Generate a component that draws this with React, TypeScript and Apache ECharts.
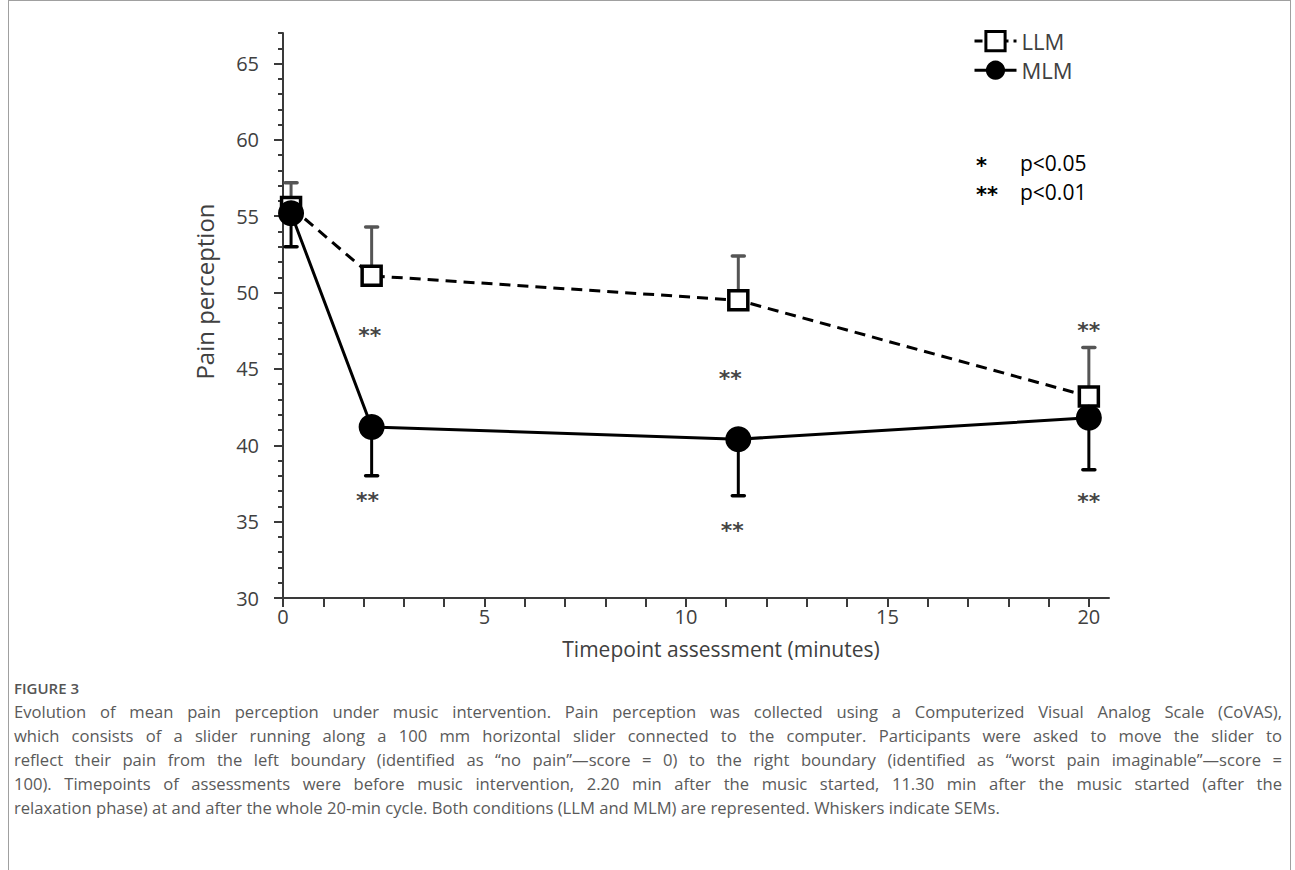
import React, { useEffect, useRef } from "react";
import * as echarts from "echarts";

// ---- data ----
const timepoints = [0.2, 2.2, 11.3, 20];
const llmMean = [55.6, 51.1, 49.5, 43.2];
const llmSem = [1.6, 3.2, 2.9, 3.2];
const mlmMean = [55.2, 41.2, 40.4, 41.8];
const mlmSem = [2.2, 3.2, 3.7, 3.4];

// significance markers "**"
const sigX = [2.15, 2.1, 11.1, 11.15, 20, 20];
const sigY = [47.2, 36.4, 44.4, 34.4, 47.55, 36.3];
const sigText = ["**", "**", "**", "**", "**", "**"];

// significance key
const keySymbols = ["*", "**"];
const keyLabels = ["p<0.05", "p<0.01"];

const xTickValues = [0, 1, 2, 3, 4, 5, 6, 7, 8, 9, 10, 11, 12, 13, 14, 15, 16, 17, 18, 19, 20];
const xLabelValues = [0, 5, 10, 15, 20];
const yLabelValues = [30, 35, 40, 45, 50, 55, 60, 65];
const yMinorValues = [31, 32, 33, 34, 36, 37, 38, 39, 41, 42, 43, 44, 46, 47, 48, 49, 51, 52, 53, 54, 56, 57, 58, 59, 61, 62, 63, 64, 66, 67];

const captionLines = [
  "Evolution of mean pain perception under music intervention. Pain perception was collected using a Computerized Visual Analog Scale (CoVAS),",
  "which consists of a slider running along a 100\u00a0mm horizontal slider connected to the computer. Participants were asked to move the slider to",
  "reflect their pain from the left boundary (identified as \u201cno pain\u201d\u2014score\u00a0=\u00a00) to the right boundary (identified as \u201cworst pain imaginable\u201d\u2014score\u00a0=",
  "100). Timepoints of assessments were before music intervention, 2.20\u00a0min after the music started, 11.30\u00a0min after the music started (after the",
  "relaxation phase) at and after the whole 20-min cycle. Both conditions (LLM and MLM) are represented. Whiskers indicate SEMs.",
];

const FONT = "'Open Sans', sans-serif";
const AXIS_COLOR = "#3a3a3a";
const LABEL_COLOR = "#404040";

function errorBar(color: string) {
  return (params: any, api: any) => {
    const x = api.value(0);
    const p0 = api.coord([x, api.value(1)]);
    const p1 = api.coord([x, api.value(2)]);
    const hw = 6;
    return {
      type: "group",
      children: [
        { type: "line", shape: { x1: p0[0], y1: p0[1], x2: p1[0], y2: p1[1] }, style: { stroke: color, lineWidth: 3 } },
        { type: "line", shape: { x1: p1[0] - hw, y1: p1[1], x2: p1[0] + hw, y2: p1[1] }, style: { stroke: color, lineWidth: 3.5, lineCap: "round" } },
      ],
    };
  };
}

function buildOption(): any {
  const llmData = timepoints.map((t, i) => [t, llmMean[i]]);
  const mlmData = timepoints.map((t, i) => [t, mlmMean[i]]);
  const llmErr = timepoints.map((t, i) => [t, llmMean[i], +(llmMean[i] + llmSem[i]).toFixed(2)]);
  const mlmErr = timepoints.map((t, i) => [t, mlmMean[i], +(mlmMean[i] - mlmSem[i]).toFixed(2)]);
  const sigData = sigX.map((x, i) => ({ value: [x, sigY[i]], name: sigText[i] }));

  return {
    animation: false,
    backgroundColor: "transparent",
    grid: { left: 283, top: 33, width: 826, height: 565, containLabel: false },
    legend: {
      orient: "vertical",
      left: 968,
      top: 25,
      itemWidth: 42,
      itemHeight: 24,
      itemGap: 7,
      selectedMode: false,
      textStyle: { fontFamily: FONT, fontSize: 22, color: LABEL_COLOR },
      data: [
        {
          name: "LLM",
          itemStyle: { color: "#ffffff", borderColor: "#000", borderWidth: 3 },
          lineStyle: { color: "#000", width: 3, type: [8, 5] },
        },
        {
          name: "MLM",
          itemStyle: { color: "#000", borderColor: "#000", borderWidth: 0 },
          lineStyle: { color: "#000", width: 3, type: "solid" },
        },
      ],
    },
    xAxis: [
      {
        type: "value",
        min: 0,
        max: 20.5,
        interval: 1,
        name: "Timepoint assessment (minutes)",
        nameLocation: "middle",
        nameGap: 40,
        nameTextStyle: { fontFamily: FONT, fontSize: 21, color: LABEL_COLOR, padding: [0, 0, 0, 50] },
        axisLine: { show: true, onZero: false, lineStyle: { color: AXIS_COLOR, width: 2 } },
        axisTick: { show: true, length: 9, customValues: xTickValues, lineStyle: { color: AXIS_COLOR, width: 2 } },
        axisLabel: { customValues: xLabelValues, fontFamily: FONT, fontSize: 20, color: LABEL_COLOR, margin: 8 },
        splitLine: { show: false },
      },
    ],
    yAxis: [
      {
        type: "value",
        min: 30,
        max: 67,
        interval: 5,
        name: "Pain perception",
        nameLocation: "middle",
        nameGap: 67,
        nameTextStyle: { fontFamily: FONT, fontSize: 24, color: LABEL_COLOR, padding: [0, 0, 0, 48] },
        axisLine: { show: true, onZero: false, lineStyle: { color: AXIS_COLOR, width: 2 } },
        axisTick: { show: true, length: 9, customValues: yLabelValues, lineStyle: { color: AXIS_COLOR, width: 2 } },
        axisLabel: { customValues: yLabelValues, fontFamily: FONT, fontSize: 20, color: LABEL_COLOR, margin: 24 },
        splitLine: { show: false },
      },
      {
        type: "value",
        min: 30,
        max: 67,
        interval: 1,
        position: "left",
        axisLine: { show: false },
        axisTick: { show: true, length: 5, customValues: yMinorValues, lineStyle: { color: AXIS_COLOR, width: 2 } },
        axisLabel: { show: false },
        splitLine: { show: false },
      },
    ],
    series: [
      {
        name: "LLM SEM",
        type: "custom",
        z: 1,
        renderItem: errorBar("#555555"),
        encode: { x: 0, y: [1, 2] },
        data: llmErr,
      },
      {
        name: "MLM SEM",
        type: "custom",
        z: 1,
        renderItem: errorBar("#000000"),
        encode: { x: 0, y: [1, 2] },
        data: mlmErr,
      },
      {
        name: "LLM",
        type: "line",
        z: 3,
        data: llmData,
        symbol: "rect",
        symbolSize: 19,
        showAllSymbol: true,
        lineStyle: { color: "#000", width: 3, type: [11, 7] },
        itemStyle: { color: "#ffffff", borderColor: "#000", borderWidth: 3.5 },
      },
      {
        name: "MLM",
        type: "line",
        z: 4,
        data: mlmData,
        symbol: "circle",
        symbolSize: 26,
        showAllSymbol: true,
        lineStyle: { color: "#000", width: 3 },
        itemStyle: { color: "#000" },
      },
      {
        name: "sig",
        type: "scatter",
        z: 5,
        symbolSize: 1,
        itemStyle: { color: "transparent" },
        data: sigData,
        label: {
          show: true,
          position: "inside",
          formatter: (p: any) => p.name,
          fontFamily: "'DejaVu Sans', sans-serif",
          fontSize: 22,
          fontWeight: "bold",
          color: "#111",
        },
      },
    ],
    graphic: [
      {
        type: "text",
        left: 976,
        top: 151,
        style: {
          text: keySymbols.join("\n"),
          fontFamily: "'DejaVu Sans', sans-serif",
          fontSize: 21,
          lineHeight: 29,
          fontWeight: "bold",
          fill: "#000",
        },
      },
      {
        type: "text",
        left: 1020,
        top: 148,
        style: { text: keyLabels.join("\n"), fontFamily: FONT, fontSize: 21, lineHeight: 29, fill: "#000" },
      },
    ],
  };
}

export default function App() {
  const ref = useRef<HTMLDivElement>(null);
  useEffect(() => {
    if (!ref.current) return;
    const chart = echarts.init(ref.current, null, { renderer: "svg" });
    chart.setOption(buildOption());
    return () => chart.dispose();
  }, []);

  const lineStyle: React.CSSProperties = {
    textAlign: "justify",
    textAlignLast: "justify",
    whiteSpace: "normal",
    height: 24,
    lineHeight: "24px",
  };

  return (
    <div style={{ position: "absolute", left: 0, top: 0, width: 1295, height: 870, background: "#fff", overflow: "hidden" }}>
      <div
        style={{
          position: "absolute",
          left: 8,
          top: 0,
          width: 1283,
          height: 900,
          border: "1px solid #a0a0a0",
          boxSizing: "border-box",
        }}
      />
      <div ref={ref} style={{ position: "absolute", left: 0, top: 0, width: 1295, height: 672 }} />
      <div
        style={{
          position: "absolute",
          left: 14,
          top: 677,
          fontFamily: FONT,
          fontSize: 15,
          fontWeight: 600,
          color: "#555",
          lineHeight: "22px",
        }}
      >
        FIGURE 3
      </div>
      <div
        style={{
          position: "absolute",
          left: 14,
          top: 700,
          width: 1268,
          fontFamily: FONT,
          fontSize: 16.6,
          color: "#5a5a5a",
        }}
      >
        {captionLines.map((l, i) => (
          <div
            key={i}
            style={
              i === captionLines.length - 1
                ? { ...lineStyle, textAlign: "left", textAlignLast: "left", whiteSpace: "nowrap" }
                : lineStyle
            }
          >
            {l}
          </div>
        ))}
      </div>
    </div>
  );
}
